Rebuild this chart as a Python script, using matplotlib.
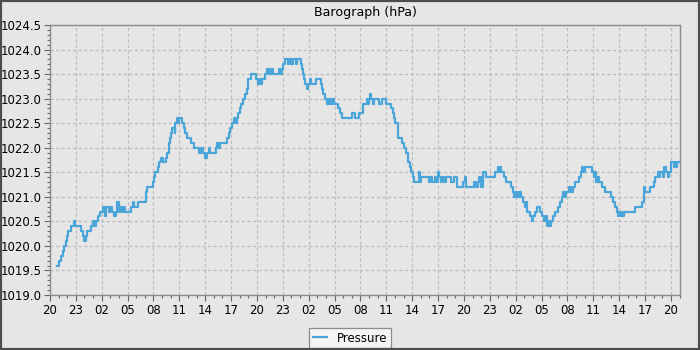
import matplotlib

matplotlib.use("Agg")
import matplotlib.pyplot as plt
import matplotlib.ticker as ticker
from matplotlib.patches import Rectangle

# hours after 20:00 on the first day, and pressure readings (hPa)
hours = [
    0.85, 1.1, 1.3, 1.5, 1.6, 1.85, 2.0, 2.1, 2.4, 2.8, 2.9, 3.6, 3.85, 3.9, 4.15,
    4.25, 4.7, 5.0, 5.2, 5.3, 5.6, 5.8, 6.2, 6.4, 6.55, 6.8, 7.0, 7.2, 7.4, 7.6,
    7.8, 7.95, 8.1, 8.3, 8.5, 8.7, 9.0, 9.4, 9.6, 9.75, 10.2, 11.1, 11.25, 11.9,
    12.05, 12.2, 12.5, 12.65, 12.9, 13.1, 13.5, 13.6, 13.8, 13.9, 14.0, 14.2, 14.45,
    14.55, 14.7, 14.85, 14.95, 15.3, 15.5, 15.7, 15.9, 16.4, 16.7, 17.3, 17.5, 17.7,
    17.95, 18.2, 18.4, 18.6, 19.3, 19.4, 19.6, 19.7, 20.5, 20.7, 20.9, 21.1, 21.3,
    21.45, 21.65, 21.8, 22.0, 22.2, 22.4, 22.6, 22.8, 22.95, 23.3, 23.9, 24.1, 24.3,
    24.45, 24.6, 24.95, 25.2, 25.4, 25.6, 25.8, 26.6, 26.7, 26.85, 27.0, 27.3, 27.6,
    27.75, 28.0, 28.2, 28.5, 28.6, 29.05, 29.2, 29.35, 29.5, 29.6, 29.75, 29.95,
    30.1, 30.3, 30.9, 31.4, 31.5, 31.7, 31.9, 32.1, 32.3, 32.5, 32.7, 32.9, 33.35,
    33.6, 33.9, 35.0, 35.4, 35.8, 36.25, 36.7, 36.85, 37.0, 37.15, 37.25, 37.4,
    37.55, 38.2, 38.55, 39.0, 39.5, 39.75, 39.9, 40.05, 40.4, 40.8, 41.05, 41.3,
    41.5, 41.7, 41.9, 42.1, 42.2, 42.75, 42.85, 43.0, 43.9, 44.1, 44.3, 44.6, 44.8,
    45.0, 45.15, 45.3, 45.5, 45.7, 45.9, 46.5, 46.9, 47.2, 47.9, 48.1, 48.25, 49.2,
    49.4, 49.6, 49.8, 49.95, 50.2, 50.6, 51.6, 51.9, 52.05, 52.2, 52.35, 52.7,
    52.85, 53.45, 53.65, 53.85, 54.0, 54.2, 54.4, 54.6, 54.85, 55.1, 55.2, 55.35,
    55.65, 55.9, 56.0, 56.2, 56.5, 56.85, 57.05, 57.25, 57.5, 57.6, 57.8, 57.9,
    58.15, 58.35, 58.55, 58.85, 59.1, 59.35, 59.5, 59.7, 59.85, 60.15, 60.4, 60.6,
    60.85, 61.35, 61.55, 61.7, 61.85, 62.0, 62.9, 63.1, 63.2, 63.35, 63.55, 63.7,
    63.95, 64.3, 65.1, 65.3, 65.5, 65.7, 65.9, 66.1, 66.3, 66.6, 67.8, 68.7, 68.85,
    69.0, 69.55, 70.0, 70.1, 70.45, 70.6, 70.75, 71.1, 71.25, 71.4, 71.65, 71.8,
    72.05, 72.3, 72.45, 72.6, 72.75, 73.0,
]
pressure = [
    1019.6, 1019.7, 1019.8, 1019.9, 1020.0, 1020.1, 1020.2, 1020.3, 1020.4, 1020.5,
    1020.4, 1020.3, 1020.2, 1020.1, 1020.2, 1020.3, 1020.4, 1020.5, 1020.4, 1020.5,
    1020.6, 1020.7, 1020.8, 1020.6, 1020.8, 1020.7, 1020.8, 1020.7, 1020.6, 1020.7,
    1020.9, 1020.7, 1020.8, 1020.7, 1020.8, 1020.7, 1020.7, 1020.8, 1020.9, 1020.8,
    1020.9, 1021.1, 1021.2, 1021.3, 1021.4, 1021.5, 1021.6, 1021.7, 1021.8, 1021.7,
    1021.8, 1021.9, 1022.1, 1022.2, 1022.3, 1022.4, 1022.3, 1022.5, 1022.6, 1022.5,
    1022.6, 1022.5, 1022.4, 1022.3, 1022.2, 1022.1, 1022.0, 1021.9, 1022.0, 1021.9,
    1021.8, 1021.9, 1022.0, 1021.9, 1022.0, 1022.1, 1022.0, 1022.1, 1022.2, 1022.3,
    1022.4, 1022.5, 1022.6, 1022.5, 1022.6, 1022.7, 1022.8, 1022.9, 1023.0, 1023.1,
    1023.2, 1023.4, 1023.5, 1023.4, 1023.3, 1023.4, 1023.3, 1023.4, 1023.5, 1023.6,
    1023.5, 1023.6, 1023.5, 1023.6, 1023.5, 1023.6, 1023.7, 1023.8, 1023.7, 1023.8,
    1023.7, 1023.8, 1023.7, 1023.8, 1023.7, 1023.6, 1023.5, 1023.4, 1023.3, 1023.2,
    1023.3, 1023.4, 1023.3, 1023.4, 1023.3, 1023.2, 1023.1, 1023.0, 1022.9, 1023.0,
    1022.9, 1023.0, 1022.9, 1022.8, 1022.7, 1022.6, 1022.7, 1022.6, 1022.7, 1022.9,
    1023.0, 1022.9, 1023.0, 1023.1, 1023.0, 1022.9, 1023.0, 1022.9, 1023.0, 1022.9,
    1022.8, 1022.7, 1022.6, 1022.5, 1022.2, 1022.1, 1022.0, 1021.9, 1021.7, 1021.6,
    1021.5, 1021.4, 1021.3, 1021.5, 1021.3, 1021.4, 1021.3, 1021.4, 1021.3, 1021.4,
    1021.3, 1021.5, 1021.4, 1021.3, 1021.4, 1021.3, 1021.4, 1021.3, 1021.4, 1021.2,
    1021.3, 1021.4, 1021.2, 1021.3, 1021.2, 1021.3, 1021.4, 1021.2, 1021.5, 1021.4,
    1021.5, 1021.6, 1021.5, 1021.6, 1021.5, 1021.4, 1021.3, 1021.2, 1021.1, 1021.0,
    1021.1, 1021.0, 1021.1, 1021.0, 1020.9, 1020.8, 1020.9, 1020.7, 1020.6, 1020.5,
    1020.6, 1020.7, 1020.8, 1020.7, 1020.6, 1020.5, 1020.6, 1020.4, 1020.5, 1020.4,
    1020.5, 1020.6, 1020.7, 1020.8, 1020.9, 1021.0, 1021.1, 1021.0, 1021.1, 1021.2,
    1021.1, 1021.2, 1021.3, 1021.4, 1021.5, 1021.6, 1021.5, 1021.6, 1021.5, 1021.4,
    1021.5, 1021.3, 1021.4, 1021.3, 1021.2, 1021.1, 1021.0, 1020.9, 1020.8, 1020.7,
    1020.6, 1020.7, 1020.6, 1020.7, 1020.8, 1020.9, 1021.2, 1021.1, 1021.2, 1021.3,
    1021.4, 1021.5, 1021.4, 1021.5, 1021.4, 1021.6, 1021.5, 1021.4, 1021.5, 1021.7,
    1021.6, 1021.7, 1021.6, 1021.7, 1021.7,
]

start_hour = 20
title = "Barograph (hPa)"
series_name = "Pressure"

BG = "#e6e6e6"
LINE = "#4aa6d9"
GRID = "#bcbcbc"

fig = plt.figure(figsize=(7, 3.5), dpi=100)
fig.patch.set_facecolor(BG)
ax = fig.add_axes([50 / 700, 1 - 295 / 350, 630 / 700, 270 / 350])
ax.set_facecolor(BG)

ax.step(hours, pressure, where="post", color=LINE, linewidth=1.6, label=series_name, zorder=3)

ax.set_xlim(0, 73.05)
ax.set_ylim(1019.0, 1024.5)

ax.xaxis.set_major_locator(ticker.MultipleLocator(3))
ax.xaxis.set_minor_locator(ticker.MultipleLocator(1))
ax.xaxis.set_major_formatter(
    ticker.FuncFormatter(lambda v, pos: f"{int(round(v + start_hour)) % 24:02d}")
)
ax.yaxis.set_major_locator(ticker.MultipleLocator(0.5))
ax.yaxis.set_minor_locator(ticker.MultipleLocator(0.1))
ax.yaxis.set_major_formatter(ticker.FormatStrFormatter("%.1f"))

ax.tick_params(which="major", length=4, width=0.8, color="#666666", labelsize=8.5, pad=2)
ax.tick_params(which="minor", length=2, width=0.8, color="#666666")
ax.tick_params(axis="x", pad=2.5)

ax.grid(True, which="major", color=GRID, linestyle=(0, (2.5, 2)), linewidth=0.9)
for s in ax.spines.values():
    s.set_color("#8c8c8c")
    s.set_linewidth(1.0)

ax.set_title(title, fontsize=9.1, pad=6.5)

leg = ax.legend(
    loc="center",
    bbox_to_anchor=(0.5, 12 / 350),
    bbox_transform=fig.transFigure,
    fontsize=8.5,
    frameon=True,
    fancybox=False,
    edgecolor="#8c8c8c",
    facecolor="#f4f4f4",
    handlelength=1.2,
    handletextpad=0.8,
    borderpad=0.3,
)
leg.get_frame().set_linewidth(0.9)
leg.get_frame().set_alpha(1)

# dark outer border round the whole chart
fig.patches.append(
    Rectangle((0, 0), 1, 1, transform=fig.transFigure, fill=False,
              edgecolor="#4d4d4d", linewidth=3)
)

fig.savefig("out.png", dpi=100, facecolor=BG)
